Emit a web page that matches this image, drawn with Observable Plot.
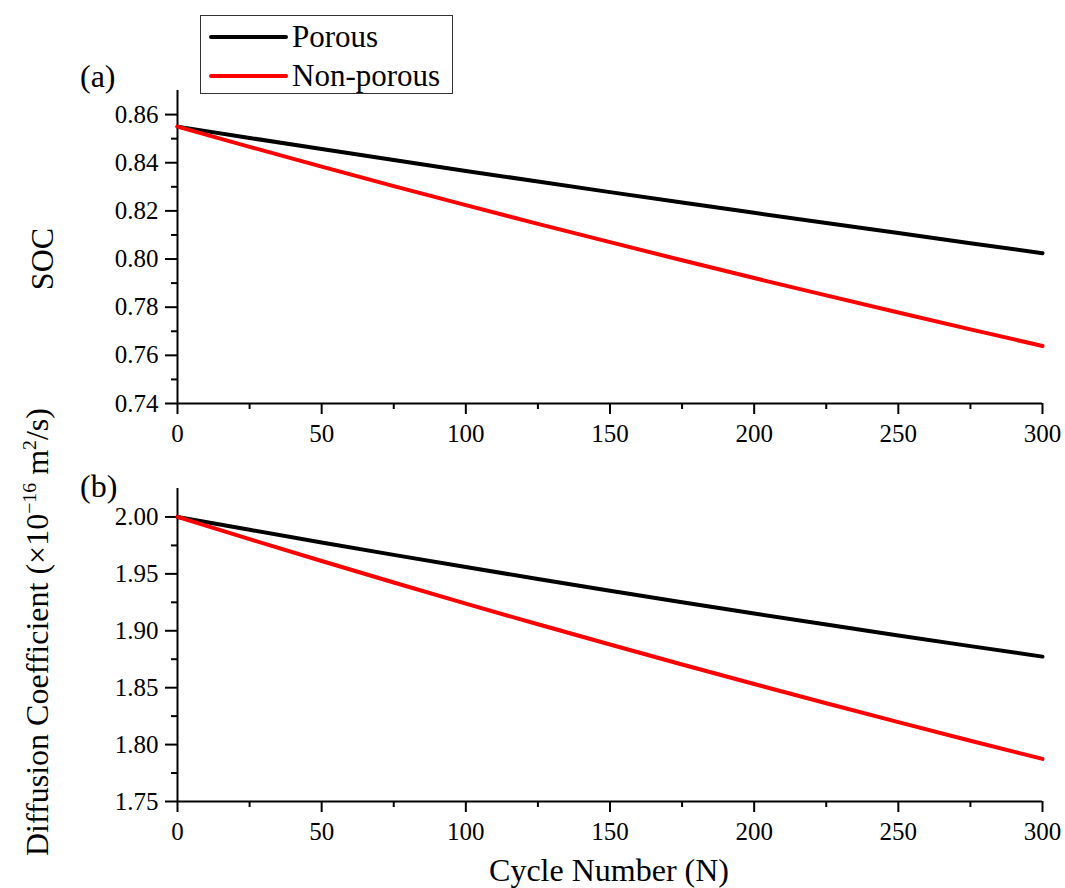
<!DOCTYPE html>
<html>
<head>
<meta charset="utf-8">
<script src="https://cdn.jsdelivr.net/npm/d3@7"></script>
<script src="https://cdn.jsdelivr.net/npm/@observablehq/plot@0.6"></script>
<style>
  body { margin: 0; background: #fff; }
  #fig { position: relative; width: 1065px; height: 888px; overflow: hidden;
         font-family: "Liberation Serif", serif; color: #000; }
  #fig svg, #fig svg text { font-family: "Liberation Serif", serif !important; }
  #fig > svg { position: absolute; left: 0; }
  .lab { position: absolute; font-size: 32px; line-height: 1; white-space: nowrap; }
  .rot { transform: translate(-50%, -50%) rotate(-90deg); }
  sup { font-size: 0.62em; vertical-align: 0.62em; line-height: 0; }
  #legend { position: absolute; left: 200px; top: 15px; width: 251px; height: 77px;
            border: 1px solid #333; background: #fff; }
  #legend svg { position: absolute; left: 0; top: 0; overflow: visible; }
</style>
</head>
<body>
<div id="fig"></div>
<script>
// Cycle numbers at which both quantities are tabulated
const cycles = [0, 25, 50, 75, 100, 125, 150, 175, 200, 225, 250, 275, 300];

// (a) state of charge
const socPorous    = [0.8550, 0.8503, 0.8457, 0.8411, 0.8366, 0.8322, 0.8278, 0.8235, 0.8192, 0.8150, 0.8108, 0.8066, 0.8024];
const socNonPorous = [0.8550, 0.8466, 0.8384, 0.8303, 0.8224, 0.8146, 0.8070, 0.7995, 0.7921, 0.7849, 0.7778, 0.7708, 0.7639];

// (b) diffusion coefficient, in units of 1e-16 m^2/s
const diffPorous    = [2.000, 1.9887, 1.9776, 1.9667, 1.9560, 1.9455, 1.9352, 1.9251, 1.9152, 1.9055, 1.8959, 1.8865, 1.8773];
const diffNonPorous = [2.000, 1.9805, 1.9613, 1.9424, 1.9238, 1.9057, 1.8879, 1.8704, 1.8532, 1.8363, 1.8197, 1.8034, 1.7874];

// Series names and colours
const seriesNames = ["Porous", "Non-porous"];
const seriesColors = ["#000000", "#ff0000"];

// Tick values
const xMajor = [0, 50, 100, 150, 200, 250, 300];
const xMinor = [25, 75, 125, 175, 225, 275];
const socMajor = [0.74, 0.76, 0.78, 0.80, 0.82, 0.84, 0.86];
const socMinor = [0.75, 0.77, 0.79, 0.81, 0.83, 0.85];
const diffMajor = [1.75, 1.80, 1.85, 1.90, 1.95, 2.00];
const diffMinor = [1.775, 1.825, 1.875, 1.925, 1.975];

const toRows = (a, b) => [
  ...cycles.map((c, i) => ({cycle: c, value: a[i], series: seriesNames[0]})),
  ...cycles.map((c, i) => ({cycle: c, value: b[i], series: seriesNames[1]}))
];

function panel({rows, yDomain, yMajor, yMinor, yFormat, height, marginTop, marginBottom}) {
  return Plot.plot({
    width: 1065,
    height,
    marginLeft: 177,
    marginRight: 23,
    marginTop,
    marginBottom,
    style: {fontFamily: "Liberation Serif, serif", color: "#000", background: "transparent"},
    x: {domain: [0, 300]},
    y: {domain: yDomain},
    color: {domain: seriesNames, range: seriesColors},
    marks: [
      Plot.axisY(yMinor, {anchor: "left", tickSize: 6, strokeWidth: 2, tickFormat: () => "", label: null}),
      Plot.axisY(yMajor, {anchor: "left", tickSize: 12, tickPadding: 7, strokeWidth: 2,
                          tickFormat: yFormat, fontSize: 25, label: null}),
      Plot.axisX(xMinor, {anchor: "bottom", tickSize: 6, strokeWidth: 2, tickFormat: () => "", label: null}),
      Plot.axisX(xMajor, {anchor: "bottom", tickSize: 11, tickPadding: 10, strokeWidth: 2,
                          fontSize: 25, label: null}),
      Plot.ruleX([0], {stroke: "#000", strokeWidth: 2}),
      Plot.ruleY([yDomain[0]], {stroke: "#000", strokeWidth: 2}),
      Plot.line(rows, {x: "cycle", y: "value", stroke: "series", z: "series", strokeWidth: 4, strokeLinejoin: "round"})
    ]
  });
}

const fig = document.getElementById("fig");

const socPanel = panel({
  rows: toRows(socPorous, socNonPorous),
  yDomain: [0.74, 0.87], yMajor: socMajor, yMinor: socMinor, yFormat: d3.format(".2f"),
  height: 450, marginTop: 90, marginBottom: 47
});
socPanel.style.top = "0px";
fig.appendChild(socPanel);

const diffPanel = panel({
  rows: toRows(diffPorous, diffNonPorous),
  yDomain: [1.75, 2.025], yMajor: diffMajor, yMinor: diffMinor, yFormat: d3.format(".2f"),
  height: 438, marginTop: 38, marginBottom: 87
});
diffPanel.style.top = "450px";
fig.appendChild(diffPanel);

// Text labels
function label(html, css, cls = "lab") {
  const d = document.createElement("div");
  d.className = cls;
  d.innerHTML = html;
  Object.assign(d.style, css);
  fig.appendChild(d);
}
label("(a)", {left: "80px", top: "60px"});
label("(b)", {left: "80px", top: "470px"});
label("SOC", {left: "42px", top: "259px"}, "lab rot");
label("Diffusion Coefficient (×10<sup>−16</sup> m<sup>2</sup>/s)", {left: "37px", top: "632px"}, "lab rot");
label("Cycle Number (N)", {left: "609px", top: "870px", transform: "translate(-50%, -50%)"});

// Legend
const legend = document.createElement("div");
legend.id = "legend";
const ns = "http://www.w3.org/2000/svg";
const lsvg = document.createElementNS(ns, "svg");
lsvg.setAttribute("width", 251);
lsvg.setAttribute("height", 77);
seriesNames.forEach((name, i) => {
  const y = 21 + i * 39;
  const ln = document.createElementNS(ns, "line");
  ln.setAttribute("x1", 10); ln.setAttribute("x2", 85);
  ln.setAttribute("y1", y); ln.setAttribute("y2", y);
  ln.setAttribute("stroke", seriesColors[i]);
  ln.setAttribute("stroke-width", 4);
  ln.setAttribute("stroke-linecap", "round");
  lsvg.appendChild(ln);
  const t = document.createElementNS(ns, "text");
  t.setAttribute("x", 91); t.setAttribute("y", y);
  t.setAttribute("dy", "0.33em");
  t.style.fontSize = "31px";
  t.textContent = name;
  lsvg.appendChild(t);
});
legend.appendChild(lsvg);
fig.appendChild(legend);
</script>
</body>
</html>
